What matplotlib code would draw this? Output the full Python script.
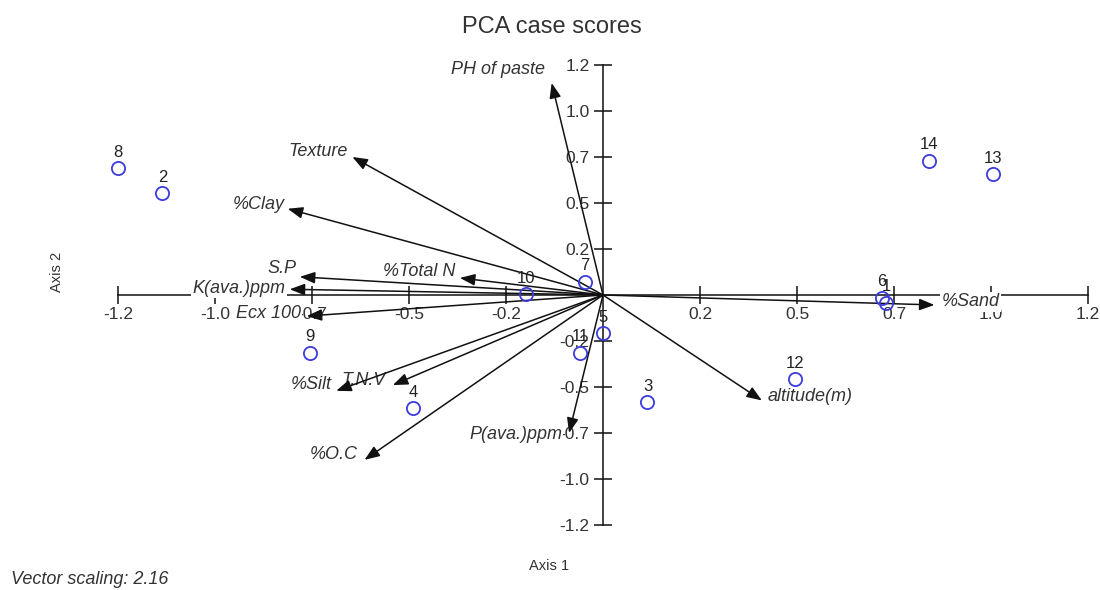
import matplotlib
matplotlib.use("Agg")
import matplotlib.pyplot as plt
import numpy as np

# ---- data ----
case_ids = ["1", "2", "3", "4", "5", "6", "7", "8", "9", "10", "11", "12", "13", "14"]
case_x = [0.70, -1.09, 0.11, -0.47, 0.00, 0.69, -0.045, -1.20, -0.725, -0.19, -0.057, 0.475, 0.965, 0.807]
case_y = [-0.04, 0.53, -0.56, -0.59, -0.20, -0.015, 0.07, 0.66, -0.30, 0.005, -0.30, -0.44, 0.63, 0.70]

var_names = ["PH of paste", "Texture", "%Clay", "S.P", "%Total N", "K(ava.)ppm", "Ecx 100",
             "%Silt", "T.N.V", "%O.C", "P(ava.)ppm", "altitude(m)", "%Sand"]
var_x = [-0.127, -0.62, -0.78, -0.75, -0.354, -0.775, -0.733, -0.66, -0.52, -0.59, -0.084, 0.393, 0.82]
var_y = [1.106, 0.72, 0.45, 0.095, 0.089, 0.03, -0.11, -0.50, -0.47, -0.86, -0.72, -0.55, -0.052]

tick_vals = [-1.2, -0.96, -0.72, -0.48, -0.24, 0.24, 0.48, 0.72, 0.96, 1.2]
tick_labels = ["-1.2", "-1.0", "-0.7", "-0.5", "-0.2", "0.2", "0.5", "0.7", "1.0", "1.2"]

# label layout (pixel offsets from arrow tip, alignment)
label_layout = {
    "PH of paste": (-7, 13, "right"),
    "Texture": (-5, 5, "right"),
    "%Clay": (-3, 4, "right"),
    "S.P": (-3, 8, "right"),
    "%Total N": (-5, 6, "right"),
    "K(ava.)ppm": (-4, 1, "right"),
    "Ecx 100": (-6, 3, "right"),
    "%Silt": (-4, 6, "right"),
    "T.N.V": (-7, 5, "right"),
    "%O.C": (-7, 5, "right"),
    "P(ava.)ppm": (-7, -1, "right"),
    "altitude(m)": (6, 4, "left"),
    "%Sand": (7, 3, "left"),
}

plt.rcParams['font.family'] = ['Liberation Sans', 'DejaVu Sans']

fig = plt.figure(figsize=(11, 5.9), dpi=100)
ax = fig.add_axes([0, 0, 1, 1])
ax.set_xlim(-1.4918, 1.2296)
ax.set_ylim(-1.5389, 1.5389)
ax.patch.set_alpha(0)

for s in ["top", "right"]:
    ax.spines[s].set_visible(False)
ax.spines["bottom"].set_position(("data", 0))
ax.spines["left"].set_position(("data", 0))
ax.spines["bottom"].set_bounds(-1.2, 1.2)
ax.spines["left"].set_bounds(-1.2, 1.2)
for s in ["bottom", "left"]:
    ax.spines[s].set_linewidth(1.1)
    ax.spines[s].set_color("#111111")

ax.set_xticks(tick_vals)
ax.set_xticklabels(tick_labels)
ax.set_yticks(tick_vals)
ax.set_yticklabels(tick_labels)
ax.tick_params(axis="both", direction="inout", length=13.5, width=1.1, color="#111111",
               labelsize=12.5, labelcolor="#333333")
ax.tick_params(axis="x", pad=2.0)
ax.tick_params(axis="y", pad=3.0)

px = 72.0 / 100.0  # points per pixel

# vector labels (white boxes hide the axis line beneath them)
for name, vx, vy in zip(var_names, var_x, var_y):
    dx, dy, ha = label_layout[name]
    ax.annotate(name, xy=(vx, vy), xytext=(dx * px, dy * px), textcoords="offset points",
                ha=ha, va="center", fontsize=13, style="italic", color="#333333",
                bbox=dict(boxstyle="square,pad=0.08", fc="white", ec="none"), zorder=2.7)

# vectors
for name, vx, vy in zip(var_names, var_x, var_y):
    ax.annotate("", xy=(vx, vy), xytext=(0, 0),
                arrowprops=dict(arrowstyle="-|>,head_length=0.65,head_width=0.25",
                                mutation_scale=14, lw=1.1, color="#111111",
                                shrinkA=0, shrinkB=0), zorder=3)

# case points
ax.plot(case_x, case_y, linestyle="none", marker="o", markersize=9.5, mfc="none",
        mec="#3b3bdc", mew=1.3, zorder=5)
for cid, cx, cy in zip(case_ids, case_x, case_y):
    ax.annotate(cid, xy=(cx, cy), xytext=(0, 16 * px), textcoords="offset points",
                ha="center", va="center", fontsize=12, color="#222222", zorder=5)

fig.text(552 / 1100, 1 - 27 / 590, "PCA case scores", ha="center", va="center",
         fontsize=17, color="#333333")
fig.text(57 / 1100, 1 - 272 / 590, "Axis 2", ha="center", va="center", rotation=90,
         fontsize=10.5, color="#333333")
fig.text(549 / 1100, 1 - 566 / 590, "Axis 1", ha="center", va="center",
         fontsize=10.5, color="#333333")
fig.text(11 / 1100, 1 - 580 / 590, "Vector scaling: 2.16", ha="left", va="center",
         fontsize=13, style="italic", color="#333333")

fig.savefig("out.png", dpi=100)
